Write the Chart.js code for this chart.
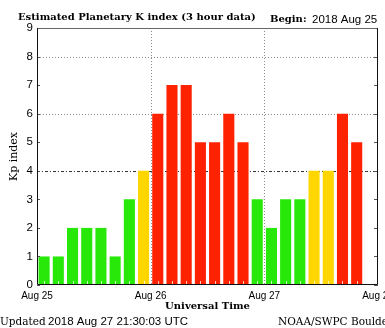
<!DOCTYPE html>
<html>
<head>
<meta charset="utf-8">
<script src="https://cdn.jsdelivr.net/npm/chart.js@4.4.0/dist/chart.umd.min.js"></script>
<style>
  html, body { margin: 0; padding: 0; background: #fff; }
  canvas { display: block; }
</style>
</head>
<body>
<canvas id="kpChart" width="385" height="328"></canvas>
<script>
// Estimated Kp, one value per 3-hour slot, starting 2018 Aug 25 00 UT
const kpValues = [1, 1, 2, 2, 2, 1, 3, 4,
                  6, 7, 7, 5, 5, 6, 5, 3,
                  2, 3, 3, 4, 4, 6, 5];
const dayLabels = ['Aug 25', 'Aug 26', 'Aug 27', 'Aug 28'];
const slotsPerDay = 8;
const kpMax = 9;
const gridLevels = [4, 6, 8];

const titleText = 'Estimated Planetary K index (3 hour data)';
const beginLabel = 'Begin:';
const beginDate = '2018 Aug 25';
const updatedLabel = 'Updated';
const updatedStamp = '2018 Aug 27 21:30:03 UTC';
const creditText = 'NOAA/SWPC Boulder';

function kpColor(v) {
    if (v < 4) return 'rgb(40, 232, 10)';
    if (v === 4) return 'rgb(255, 214, 0)';
    return 'rgb(255, 34, 0)';
}

// frame, grid lines and the small tick marks inside the plot
const framePlugin = {
    id: 'frame',
    beforeDatasetsDraw(chart) {
        const { ctx, chartArea: a, scales: { x, y } } = chart;
        ctx.save();
        ctx.lineWidth = 1;

        // vertical day boundaries
        ctx.strokeStyle = '#8a8a8a';
        ctx.setLineDash([1, 2]);
        for (let d = 1; d < dayLabels.length - 1; d++) {
            const px = Math.round(x.getPixelForValue(d * slotsPerDay)) + 0.5;
            ctx.beginPath();
            ctx.moveTo(px, a.top);
            ctx.lineTo(px, a.bottom);
            ctx.stroke();
        }

        // horizontal levels
        gridLevels.forEach(level => {
            const py = Math.round(y.getPixelForValue(level)) + 0.5;
            if (level === 4) {
                ctx.strokeStyle = '#333';
                ctx.setLineDash([3, 2, 1, 2]);
            } else {
                ctx.strokeStyle = '#8e8890';
                ctx.setLineDash([1, 2]);
            }
            ctx.beginPath();
            ctx.moveTo(a.left, py);
            ctx.lineTo(a.right, py);
            ctx.stroke();
        });
        ctx.restore();
    },
    afterDatasetsDraw(chart) {
        const { ctx, chartArea: a, scales: { x, y } } = chart;
        ctx.save();
        ctx.lineWidth = 1;

        // small 3-hour marks along the bottom
        ctx.strokeStyle = 'rgba(255, 255, 255, 0.75)';
        kpValues.forEach((v, i) => {
            const px = Math.round(x.getPixelForValue(i + 0.5)) + 0.5;
            ctx.beginPath();
            ctx.moveTo(px, a.bottom - 4);
            ctx.lineTo(px, a.bottom);
            ctx.stroke();
        });

        // y tick marks on both sides
        ctx.strokeStyle = '#555';
        for (let k = 0; k <= kpMax; k++) {
            const py = Math.round(y.getPixelForValue(k)) + 0.5;
            ctx.beginPath();
            ctx.moveTo(a.left, py);
            ctx.lineTo(a.left + 3, py);
            ctx.moveTo(a.right - 4, py);
            ctx.lineTo(a.right, py);
            ctx.stroke();
        }

        // frame
        ctx.strokeStyle = '#666';
        ctx.beginPath();
        ctx.moveTo(a.left + 0.5, a.top + 0.5);
        ctx.lineTo(a.right - 0.5, a.top + 0.5);
        ctx.stroke();
        ctx.strokeStyle = '#111';
        ctx.beginPath();
        ctx.moveTo(a.left + 0.5, a.top);
        ctx.lineTo(a.left + 0.5, a.bottom - 0.5);
        ctx.lineTo(a.right - 0.5, a.bottom - 0.5);
        ctx.lineTo(a.right - 0.5, a.top);
        ctx.stroke();
        ctx.restore();
    }
};

// header and footer texts
const textPlugin = {
    id: 'pageText',
    afterDraw(chart) {
        const ctx = chart.ctx;
        ctx.save();
        ctx.fillStyle = '#000';
        ctx.textBaseline = 'alphabetic';
        ctx.textAlign = 'left';

        ctx.font = 'bold 10px "DejaVu Serif"';
        ctx.fillText(titleText, 18, 20);
        ctx.fillText(beginLabel, 270, 22);
        ctx.font = '11.5px "Liberation Sans"';
        ctx.fillText(beginDate, 312, 23);

        ctx.font = '10.5px "DejaVu Serif"';
        ctx.fillText(updatedLabel, 0, 325);
        ctx.font = '11.5px "Liberation Sans"';
        ctx.fillText(updatedStamp, 48, 325);
        ctx.font = '10.5px "DejaVu Serif"';
        ctx.fillText(creditText, 278, 325);
        ctx.restore();
    }
};

const ctx = document.getElementById('kpChart');
new Chart(ctx, {
    type: 'bar',
    data: {
        datasets: [{
            data: kpValues.map((v, i) => ({ x: i + 0.5, y: v })),
            backgroundColor: kpValues.map(kpColor),
            borderWidth: 0,
            barPercentage: 0.78,
            categoryPercentage: 1.0
        }]
    },
    options: {
        responsive: false,
        animation: false,
        layout: {
            padding: { top: 28, right: 7, bottom: 16, left: 0 }
        },
        plugins: {
            legend: { display: false },
            tooltip: { enabled: false }
        },
        scales: {
            x: {
                type: 'linear',
                offset: false,
                min: 0,
                max: dayLabels.length * slotsPerDay - slotsPerDay,
                grid: { display: false, drawTicks: false },
                border: { display: false },
                ticks: {
                    stepSize: slotsPerDay,
                    autoSkip: false,
                    maxRotation: 0,
                    padding: 5,
                    color: '#000',
                    font: { family: '"Liberation Sans"', size: 10 },
                    callback: (value) => dayLabels[value / slotsPerDay]
                },
                title: {
                    display: true,
                    text: 'Universal Time',
                    color: '#000',
                    font: { family: '"DejaVu Serif"', size: 10, weight: 'bold' },
                    padding: { top: 0, bottom: 0 }
                },
                afterFit(scale) {
                    scale.height = 27;
                    scale.paddingLeft = 0;
                    scale.paddingRight = 0;
                }
            },
            y: {
                min: 0,
                max: kpMax,
                grid: { display: false, drawTicks: false },
                border: { display: false },
                ticks: {
                    stepSize: 1,
                    padding: 4,
                    color: '#000',
                    font: { family: '"Liberation Sans"', size: 11.5 }
                },
                title: {
                    display: true,
                    text: 'Kp index',
                    color: '#000',
                    font: { family: '"DejaVu Serif"', size: 11 },
                    padding: { top: 8, bottom: 0 }
                },
                afterFit(scale) {
                    scale.width = 37;
                    scale.paddingTop = 0;
                    scale.paddingBottom = 0;
                }
            }
        }
    },
    plugins: [framePlugin, textPlugin]
});
</script>
</body>
</html>
